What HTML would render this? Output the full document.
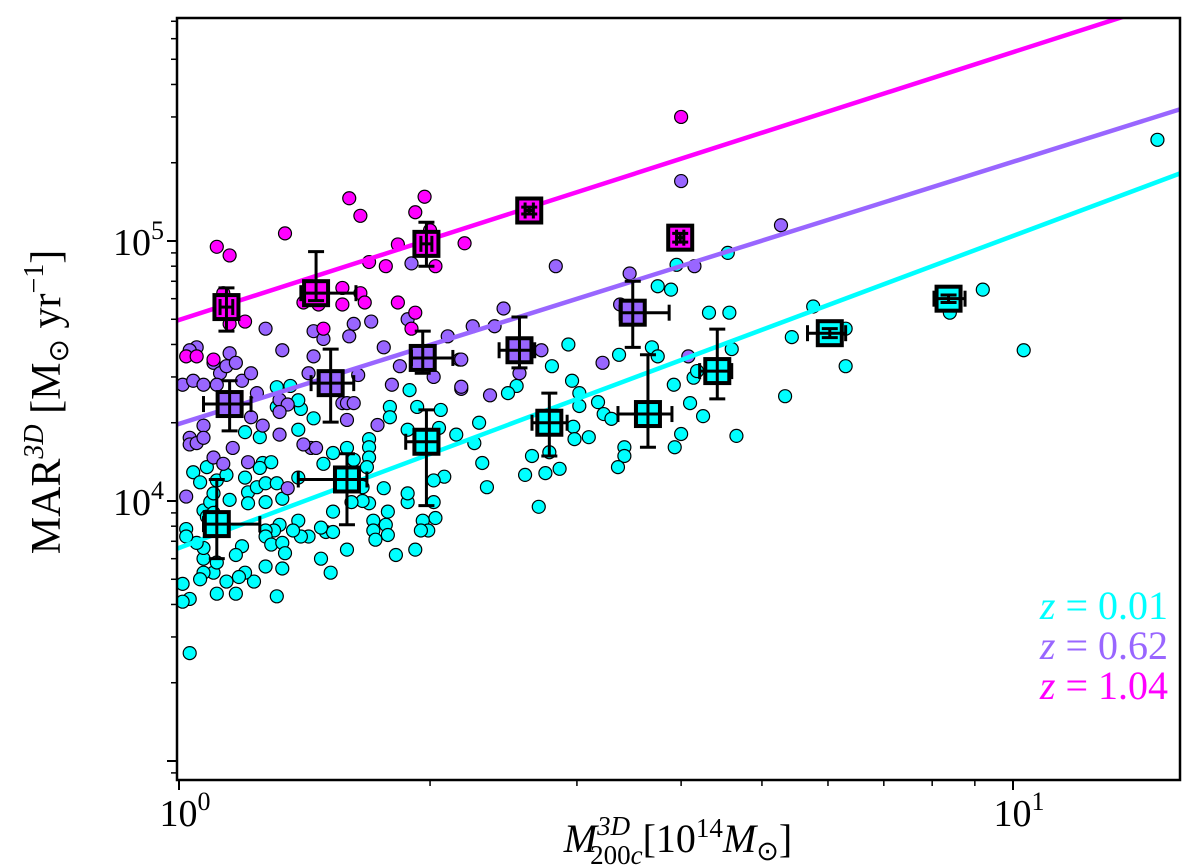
<!DOCTYPE html>
<html><head><meta charset="utf-8"><style>
html,body{margin:0;padding:0;background:#fff;}
svg{display:block;}
text{font-family:"Liberation Serif",serif;}
</style></head><body>
<svg id="chart" width="1200" height="866" viewBox="0 0 1200 866" xmlns="http://www.w3.org/2000/svg"></svg>
<script>
// ---- data (mass in 1e14 Msun, MAR in 1e3 Msun/yr) ----
const cyanMass=[1.2,1.25,1.39,1.45,1.4,1.39,1.31,1.36,1.31,1.69,1.69,1.59,1.53,1.49,1.62,1.69,1.68,1.79,1.79,1.89,1.93,2.06,2.15,1.88,2.05,2.08,2.02,2.02,2.03,1.96,1.99,1.95,1.92,1.82,1.88,1.88,1.76,1.78,1.77,1.78,1.71,1.71,1.72,1.69,1.66,1.61,1.66,1.53,1.59,1.52,1.48,1.5,1.53,1.48,1.43,1.4,1.39,1.37,1.32,1.3,1.27,1.27,1.29,1.33,1.34,1.33,1.27,1.31,1.23,1.2,1.18,1.14,1.17,1.11,1.1,1.11,1.07,1.06,1.07,1.07,1.05,1.19,1.17,1.01,1.03,1.01,1.03,1.02,1.02,1.07,1.09,1.1,1.08,1.1,1.11,1.08,1.04,1.06,1.14,1.2,1.21,1.21,1.24,1.26,1.29,1.25,1.27,1.31,1.27,1.33,1.39,1.15,
2.93,2.8,2.96,3.02,3.02,3.18,2.54,2.48,2.29,2.26,2.31,2.34,2.6,2.75,2.86,2.65,2.7,2.97,2.98,3.1,3.23,3.3,3.37,3.69,3.75,3.42,3.42,3.36,3.92,4.1,4.25,4.0,3.93,4.14,4.18,4.66,4.6,4.32,4.57,3.75,3.89,3.95,4.55,5.33,5.43,5.76,6.3,6.3,2.78,9.2,10.3,14.9,8.4];
const cyanMAR=[18.4,17.6,18.8,20.8,22.6,24.4,27.4,27.7,23,17.3,16.1,16,15.3,13.9,14.4,14.7,13.5,23,21,26.7,23,22.4,18,18.8,19.1,12.4,12,9.9,8.6,8.4,7.7,7.7,6.5,6.2,9.9,10.7,11.2,9.1,8.1,7.4,8.4,7.7,7.1,9.8,10,9.9,11.3,9.1,6.5,5.3,6,7.6,7.6,7.9,7.3,7.3,8.4,7.7,8.1,7.7,7.7,7.3,6.8,6.9,6.3,5.5,5.6,4.3,4.9,5.3,5.1,4.9,4.4,4.4,5.3,5.8,5.3,5,6,6.6,6.9,6.7,6.2,4.8,4.2,4.1,2.6,7.8,7.3,9.2,9.9,10.7,8.7,9,12,13.5,12.9,11.8,12.6,12.3,10.8,9.8,11.3,14,14.1,13.4,11.7,11.7,9.9,10.2,12.3,10.1,
40,33,29,26,23.2,24,27.7,26,20,16.7,14,11.3,12.6,12.8,13.3,14.9,9.5,19.3,17.3,17.6,21.6,20.7,36.5,39,36,16.1,14.9,13.5,28,23.8,21.2,18.1,16.1,29.8,31.6,17.8,38.4,53,53,67,65,81,90,25.3,42.7,56,46,33,15.4,65,38,245,53];
const purpleMass=[1.27,1.33,1.45,1.49,1.62,1.7,1.88,1.76,1.45,1.6,1.84,2.02,2.17,2.18,2.1,1.05,1.03,1.1,1.12,1.14,1.15,1.17,1.19,1.22,1.01,1.04,1.07,1.11,1.24,1.32,1.35,1.32,1.22,1.26,1.07,1.32,1.16,1.03,1.03,1.05,1.07,1.44,1.41,1.46,1.1,1.13,1.21,1.35,1.02,1.73,1.57,1.59,1.62,1.59,1.64,1.43,1.8,
2.83,2.45,2.25,2.39,1.9,4.0,5.27,3.47,4.15,2.72,3.22,4.08,2.36,2.18,2.18,2.56,3.38];
const purpleMAR=[46,38,45,42,48,49,50,39,36,43,33,30,35,27,43,39,38,34,31,33,37,34,29,31,28,29,28,28,26,24.5,23.5,22,21,19.5,19.5,18,16,17.5,16.5,16.7,17.5,16,16.5,16,14.7,13.9,14.1,11.2,10.4,19.6,23.8,23.8,23.8,20.5,30.5,31,28,
80,55,47,47,82,170,115,75,80,38,34,36,25.5,27.5,35,31,57];
const magentaMass=[1.11,1.15,1.34,1.6,1.65,1.83,1.97,1.92,2.0,2.03,2.2,1.77,1.69,1.41,1.65,1.67,1.47,1.57,1.57,1.83,1.2,1.15,1.13,1.92,1.9,1.49,4.0,1.02,1.05,1.1];
const magentaMAR=[95,88,107,146,125,97,148,129,110,80,98,80,83,58,63,58,57,66,57,58,49,48,63,53,46,46,300,36,36,35];
// binned medians
const cyanBinM=[1.11,1.59,1.98,2.78,3.65,4.42,6.03,8.37];
const cyanBinV=[8.15,12.1,16.9,20,21.6,31.6,44.2,60];
const cyanBinVlo=[6.0,8.1,9.6,14.9,16.1,24.7,42.5,58];
const cyanBinVhi=[12.1,15.2,22.4,26,36.5,45.8,46,62];
const cyanBinMlo=[1.07,1.39,1.87,2.65,3.36,4.21,5.67,8.04];
const cyanBinMhi=[1.25,1.68,2.05,2.92,3.9,4.6,6.3,8.76];
const purpleBinM=[1.15,1.52,1.96,2.56,3.5];
const purpleBinV=[23.6,28.4,35.5,38,53];
const purpleBinVlo=[18.6,20.1,31,32.5,39];
const purpleBinVhi=[29,38.4,45,51,70];
const purpleBinMlo=[1.07,1.44,1.9,2.42,3.38];
const purpleBinMhi=[1.22,1.62,2.13,2.67,3.87];
const magentaBinM=[1.14,1.46,1.98,2.63,3.99];
const magentaBinV=[55.7,63,97.5,131,103];
const magentaBinVlo=[45,59,80,127,99];
const magentaBinVhi=[66,91,118,135,107];
const magentaBinMlo=[1.12,1.4,1.95,2.6,3.95];
const magentaBinMhi=[1.16,1.63,2.01,2.66,4.03];
// fits: MAR(k) = amp * M^slope
const fitAmp=[6.6,19.8,49.7];
const fitSlope=[1.2,1.008,1.03];
const seriesColors=['#00ffff','#9966ff','#ff00ff'];
const legendLabels=['0.01','0.62','1.04'];
const xTickVals=[1,10];
const xTickLabels=['0','1'];
const yTickVals=[10,100];
const yTickLabels=['4','5'];

// ---- axes ----
const L=177,R=1180,T=18,B=780;
const X0=179, XDEC=834, Y4=501, YDEC=260;
function sx(m){return X0+Math.log10(m)*XDEC;}
function sy(v){return Y4-(Math.log10(v*1000)-4)*YDEC;}
const NS='http://www.w3.org/2000/svg';
const svg=document.getElementById('chart');
function mk(tag,attrs,parent){const e=document.createElementNS(NS,tag);for(const k in attrs)e.setAttribute(k,attrs[k]);(parent||svg).appendChild(e);return e;}

const clip=mk('clipPath',{id:'pc'});mk('rect',{x:L,y:T,width:R-L,height:B-T},clip);
const plot=mk('g',{'clip-path':'url(#pc)'});



const ptsSets=[[cyanMass,cyanMAR,'cyan'],[purpleMass,purpleMAR,'purple'],[magentaMass,magentaMAR,'magenta']];
ptsSets.forEach((s,si)=>{
  const g=mk('g',{},plot);
  
  
  s[0].forEach((m,i)=>{
    const c=mk('circle',{cx:sx(m),cy:sy(s[1][i]),r:6.5,fill:seriesColors[si],stroke:'#000','stroke-width':1.2},g);
    
    
  });
});
fitAmp.forEach((a,i)=>{
  const m1=0.95,m2=20;
  const ln=mk('line',{x1:sx(m1),y1:sy(a*Math.pow(m1,fitSlope[i])),x2:sx(m2),y2:sy(a*Math.pow(m2,fitSlope[i])),stroke:seriesColors[i],'stroke-width':4.5},plot);
  
  
});
const bins=[[cyanBinM,cyanBinV,cyanBinVlo,cyanBinVhi,cyanBinMlo,cyanBinMhi],[purpleBinM,purpleBinV,purpleBinVlo,purpleBinVhi,purpleBinMlo,purpleBinMhi],[magentaBinM,magentaBinV,magentaBinVlo,magentaBinVhi,magentaBinMlo,magentaBinMhi]];
bins.forEach((b,si)=>{
  b[0].forEach((m,i)=>{
    const g=mk('g',{},plot);
    
    
    const x=sx(m),y=sy(b[1][i]);
    mk('rect',{x:x-12,y:y-12,width:24,height:24,fill:seriesColors[si],stroke:'#000','stroke-width':4},g);
    const yl=sy(b[2][i]),yh=sy(b[3][i]),xl=sx(b[4][i]),xh=sx(b[5][i]);
    mk('line',{x1:x,y1:yl,x2:x,y2:yh,stroke:'#000','stroke-width':3},g);
    mk('line',{x1:xl,y1:y,x2:xh,y2:y,stroke:'#000','stroke-width':3},g);
    [yl,yh].forEach(yy=>mk('line',{x1:x-8,y1:yy,x2:x+8,y2:yy,stroke:'#000','stroke-width':3},g));
    [xl,xh].forEach(xx=>mk('line',{x1:xx,y1:y-8,x2:xx,y2:y+8,stroke:'#000','stroke-width':3},g));
  });
});

const fr=mk('rect',{x:L,y:T,width:R-L,height:B-T,fill:'none',stroke:'#000','stroke-width':2.5});



const ticks=mk('g',{stroke:'#000'});


for(let d=0;d<=1;d++)for(let k=1;k<10;k++){
  const x=sx(k*Math.pow(10,d)); if(x<L||x>R)continue;
  const len=k===1?10:6;
  mk('line',{x1:x,y1:B,x2:x,y2:B+len,'stroke-width':k===1?2:1.5},ticks);
}
for(let d=-1;d<=2;d++)for(let k=1;k<10;k++){
  const y=sy(k*Math.pow(10,d)); if(y<T||y>B)continue;
  const len=k===1?10:6;
  mk('line',{x1:L-len,y1:y,x2:L,y2:y,'stroke-width':k===1?2:1.5},ticks);
}
xTickVals.forEach((v,i)=>{
  const t=mk('text',{x:sx(v)+6,y:826,'text-anchor':'middle','font-size':38});
  
  
  t.innerHTML='10<tspan dy="-16" font-size="26">'+xTickLabels[i]+'</tspan>';
});
yTickVals.forEach((v,i)=>{
  const t=mk('text',{x:164,y:sy(v)+14,'text-anchor':'end','font-size':38});
  
  
  t.innerHTML='10<tspan dy="-16" font-size="26">'+yTickLabels[i]+'</tspan>';
});
const xt=mk('text',{x:678,y:852,'text-anchor':'middle','font-size':40});


xt.innerHTML='<tspan font-style="italic">M</tspan><tspan dy="-17" font-size="27" font-style="italic">3D</tspan><tspan dx="-40" dy="29" font-size="27">200<tspan font-style="italic">c</tspan></tspan><tspan dy="-12">[10</tspan><tspan dy="-15" font-size="27">14</tspan><tspan dy="15" font-style="italic">M</tspan><tspan dy="8" font-size="27">⊙</tspan><tspan dy="-8">]</tspan>';
const yt=mk('text',{x:0,y:0,'text-anchor':'middle','font-size':42,transform:'translate(60,402) rotate(-90)'});


yt.innerHTML='MAR<tspan dy="-17" font-size="28" font-style="italic">3D</tspan><tspan dy="17"> [M</tspan><tspan dy="8" font-size="28">⊙</tspan><tspan dy="-8"> yr</tspan><tspan dy="-17" font-size="28">−1</tspan><tspan dy="17">]</tspan>';
legendLabels.forEach((lab,i)=>{
  const t=mk('text',{x:1168,y:619+i*40,'text-anchor':'end','font-size':40,fill:seriesColors[i]});
  
  
  t.innerHTML='<tspan font-style="italic">z</tspan> = '+lab;
});
</script>
</body></html>
